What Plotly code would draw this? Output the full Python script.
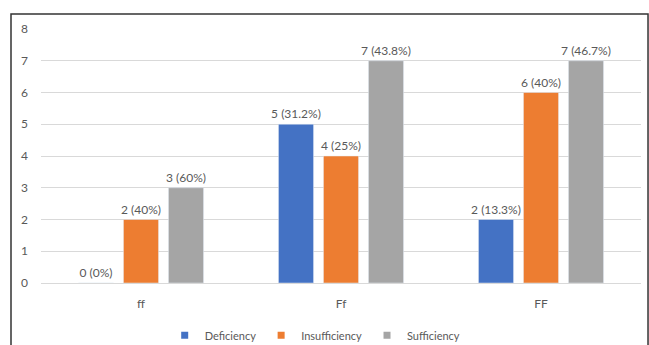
import plotly.graph_objects as go

categories = ["ff", "Ff", "FF"]
deficiency = [0, 5, 2]
insufficiency = [2, 4, 6]
sufficiency = [3, 7, 7]
def_labels = ["0 (0%)", "5 (31.2%)", "2 (13.3%)"]
ins_labels = ["2 (40%)", "4 (25%)", "6 (40%)"]
suf_labels = ["3 (60%)", "7 (43.8%)", "7 (46.7%)"]

FONT = "Lato"
TXT = "#595959"
series = [
    ("Deficiency", deficiency, def_labels, "#4472C4"),
    ("Insufficiency", insufficiency, ins_labels, "#ED7D31"),
    ("Sufficiency", sufficiency, suf_labels, "#A5A5A5"),
]

fig = go.Figure()
for name, vals, labs, col in series:
    fig.add_trace(go.Bar(
        x=categories, y=vals, name=name, marker_color=col,
        text=labs, textposition="outside", cliponaxis=False,
        constraintext="none", showlegend=False,
        textfont=dict(family=FONT, size=12, color=TXT),
    ))
for name, vals, labs, col in series:
    fig.add_trace(go.Scatter(
        x=[None], y=[None], name=name, mode="markers",
        marker=dict(symbol="square", size=7, color=col),
    ))

fig.update_layout(
    width=649, height=345,
    margin=dict(l=41, r=8, t=29, b=62, autoexpand=False),
    paper_bgcolor="white", plot_bgcolor="white",
    barmode="group", bargap=0.325, bargroupgap=0.22,
    font=dict(family=FONT, size=12, color=TXT),
    showlegend=True,
    legend=dict(orientation="h", x=0.457, xanchor="center", y=0.028, yanchor="middle",
                yref="container",
                font=dict(family=FONT, size=11, color=TXT), itemwidth=30,
                traceorder="normal", tracegroupgap=0),
    xaxis=dict(showgrid=False, showline=False, ticks="", ticklabelstandoff=12,
               tickfont=dict(family=FONT, size=12, color=TXT)),
    yaxis=dict(range=[0, 8], dtick=1, showgrid=True, gridcolor="#D9D9D9",
               zeroline=True, zerolinecolor="#D9D9D9", zerolinewidth=1,
               showline=False, ticks="", ticklabelstandoff=12,
               tickfont=dict(family=FONT, size=12, color=TXT)),
    shapes=[dict(type="rect", xref="paper", yref="paper",
                 x0=-0.05, x1=1.0117, y0=-0.3, y1=1.059,
                 line=dict(color="#333333", width=1.5), fillcolor="rgba(0,0,0,0)")],
)

fig.write_html("out.html")
